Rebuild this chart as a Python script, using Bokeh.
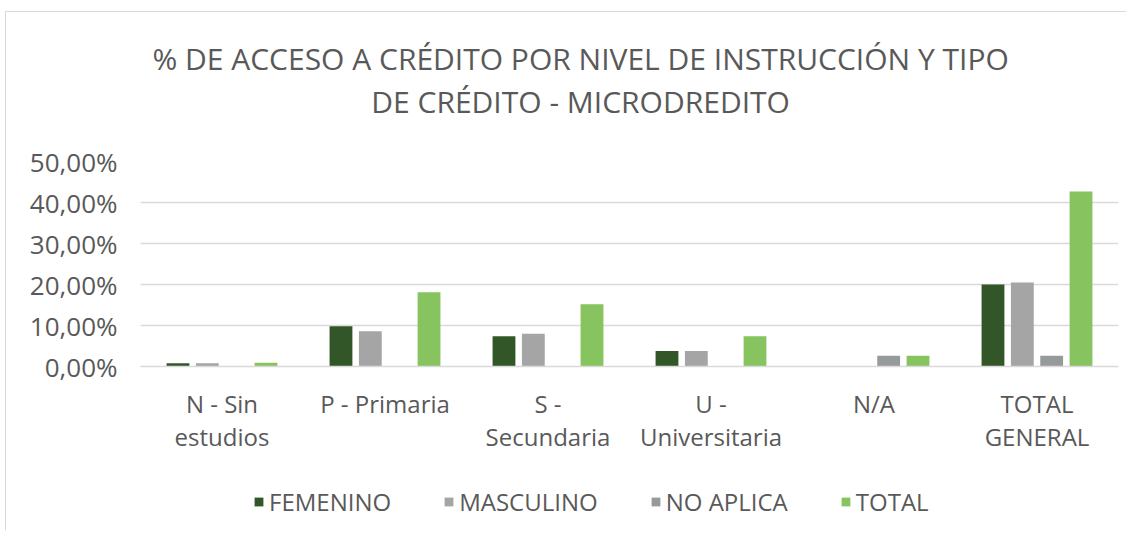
from bokeh.plotting import figure
from bokeh.models import FactorRange, FixedTicker, Legend, LegendItem, Label
from bokeh.layouts import column
from bokeh.transform import dodge
from bokeh.embed import file_html
from bokeh.resources import INLINE
from bokeh.models import ColumnDataSource

title_lines = ["% DE ACCESO A CRÉDITO POR NIVEL DE INSTRUCCIÓN Y TIPO", "DE CRÉDITO - MICRODREDITO"]
categories = ["N - Sin\nestudios", "P - Primaria", "S -\nSecundaria", "U -\nUniversitaria", "N/A", "TOTAL\nGENERAL"]
femenino = [0.8, 9.8, 7.4, 3.8, 0.0, 20.0]
masculino = [0.8, 8.6, 8.0, 3.8, 0.0, 20.5]
no_aplica = [0.0, 0.0, 0.0, 0.0, 2.6, 2.6]
total = [0.9, 18.1, 15.2, 7.4, 2.6, 42.7]
series_names = ["FEMENINO", "MASCULINO", "NO APLICA", "TOTAL"]
y_ticks = [0, 10, 20, 30, 40, 50]
y_tick_labels = ["0,00%", "10,00%", "20,00%", "30,00%", "40,00%", "50,00%"]

colors = ["#325628", "#A5A5A5", "#979A9A", "#87C35F"]
offsets = [-0.27, -0.09, 0.09, 0.27]
FONT = "Open Sans"
TXT = "#595959"


def blank_strip(h):
    f = figure(x_range=(0, 1), y_range=(0, 1), width=1120, height=h, output_backend="svg",
               toolbar_location=None, min_border_top=0, min_border_bottom=0,
               min_border_left=134, min_border_right=8)
    f.axis.visible = False
    f.grid.grid_line_color = None
    f.outline_line_color = None
    f.background_fill_color = "white"
    f.border_fill_color = "white"
    return f


# title strip
top = blank_strip(129)
for txt, yy in zip(title_lines, [0.64, 0.31]):
    top.add_layout(Label(x=0.45, y=yy, text=txt, text_align="center", text_baseline="middle",
                         text_font=FONT, text_font_size="30px", text_color=TXT))

src = ColumnDataSource(dict(cat=categories, fem=femenino, mas=masculino, na=no_aplica, tot=total))

p = figure(x_range=FactorRange(*categories), y_range=(0, 50), width=1120, height=332,
           output_backend="svg", toolbar_location=None,
           min_border_left=134, min_border_right=8, min_border_top=20, min_border_bottom=107)
p.outline_line_color = None
p.background_fill_color = "white"
p.border_fill_color = "white"

for col, off, c in zip(["fem", "mas", "na", "tot"], offsets, colors):
    p.vbar(x=dodge("cat", off, range=p.x_range), top=col, width=0.14, source=src,
           fill_color=c, line_color=None)

p.xgrid.grid_line_color = None
p.ygrid.grid_line_color = "#d9d9d9"
p.ygrid.grid_line_width = 1.5
p.yaxis.ticker = FixedTicker(ticks=y_ticks)
p.yaxis.major_label_overrides = {t: l for t, l in zip(y_ticks, y_tick_labels)}
p.yaxis.axis_line_color = None
p.yaxis.major_tick_line_color = None
p.yaxis.minor_tick_line_color = None
p.yaxis.major_label_standoff = 17
p.yaxis.major_label_text_font = FONT
p.yaxis.major_label_text_font_size = "26px"
p.yaxis.major_label_text_color = TXT

p.xaxis.axis_line_color = "#d9d9d9"
p.xaxis.axis_line_width = 1.5
p.xaxis.major_tick_line_color = None
p.xaxis.minor_tick_line_color = None
p.xaxis.major_label_standoff = 14
p.xaxis.major_label_text_font = FONT
p.xaxis.major_label_text_font_size = "24px"
p.xaxis.major_label_text_line_height = 1.0
p.xaxis.major_label_text_color = TXT

# legend strip below the chart (zero-height swatch bars only carry the legend styling)
lg = blank_strip(57)
leg_src = ColumnDataSource(dict(x=[0.5], top=[0.0]))
leg_r = [lg.vbar(x="x", top="top", width=0.01, source=leg_src, fill_color=c, line_color=None)
         for c in colors]
legend = Legend(items=[LegendItem(label=n, renderers=[r]) for n, r in zip(series_names, leg_r)],
                orientation="horizontal", location=(113, 12),
                label_text_font=FONT, label_text_font_size="24px", label_text_color=TXT,
                glyph_width=11, glyph_height=11, label_standoff=5, spacing=52,
                border_line_color=None, background_fill_alpha=0, padding=0, margin=0)
lg.add_layout(legend, "center")

layout = column(top, p, lg, spacing=0)
layout.margin = (11, 0, 0, 5)
layout.styles = {"border-top": "1px solid #d9d9d9", "border-left": "1px solid #d9d9d9"}

open("out.html", "w").write(file_html(layout, INLINE))
